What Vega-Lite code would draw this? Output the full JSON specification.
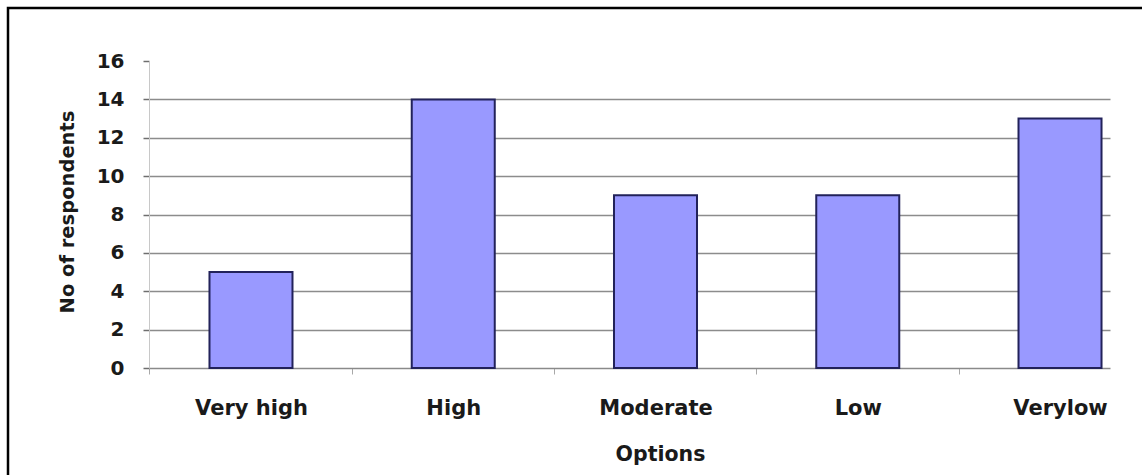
{
  "$schema": "https://vega.github.io/schema/vega-lite/v6.json",
  "width": 1150,
  "height": 480,
  "autosize": {"type": "none"},
  "padding": {"left": 8, "top": 8, "right": -16, "bottom": -13},
  "background": "#ffffff",
  "view": {
    "fill": "#ffffff",
    "stroke": "#000000",
    "strokeWidth": 2.5
  },
  "data": {
    "values": [
      {"option": "Very high", "respondents": 5},
      {"option": "High", "respondents": 14},
      {"option": "Moderate", "respondents": 9},
      {"option": "Low", "respondents": 9},
      {"option": "Verylow", "respondents": 13}
    ]
  },
  "mark": {
    "type": "bar",
    "fill": "#9999FF",
    "stroke": "#22225a",
    "strokeWidth": 2
  },
  "encoding": {
    "x": {
      "field": "option",
      "type": "nominal",
      "sort": null,
      "scale": {
        "range": [141, 1102],
        "paddingInner": 0.5896,
        "paddingOuter": 0.1705,
        "align": 0.877
      },
      "axis": {
        "title": "Options",
        "orient": "bottom",
        "offset": -120,
        "grid": false,
        "labelAngle": 0,
        "domainColor": "#8a8a8a",
        "domainWidth": 1.5,
        "tickColor": "#a8a8a8",
        "tickSize": 6,
        "tickWidth": 1,
        "tickOffset": -101.5,
        "labelOffset": 101.5,
        "labelFont": "DejaVu Sans",
        "labelFontWeight": "bold",
        "labelFontSize": 21,
        "labelColor": "#1a1a1a",
        "labelBaseline": "alphabetic",
        "labelPadding": 40,
        "labelOverlap": false,
        "titleFont": "DejaVu Sans",
        "titleFontWeight": "bold",
        "titleFontSize": 20.5,
        "titleColor": "#1a1a1a",
        "titleX": 652,
        "titleY": 92,
        "titleBaseline": "alphabetic"
      }
    },
    "y": {
      "field": "respondents",
      "type": "quantitative",
      "scale": {"domain": [0, 16], "range": [360, 53], "nice": false},
      "axis": {
        "title": "No of respondents",
        "offset": -141,
        "values": [0, 2, 4, 6, 8, 10, 12, 14, 16],
        "domainColor": "#c8c8c8",
        "domainWidth": 1,
        "tickColor": "#6e6e6e",
        "tickSize": 6,
        "tickWidth": 1.5,
        "grid": true,
        "gridColor": "#8c8c8c",
        "gridWidth": 1.5,
        "gridOpacity": {
          "condition": {"test": "datum.value === 16 || datum.value === 0", "value": 0},
          "value": 1
        },
        "labelFont": "DejaVu Sans",
        "labelFontWeight": "bold",
        "labelFontSize": 20,
        "labelColor": "#1a1a1a",
        "labelPadding": 19,
        "labelBaseline": "middle",
        "titleFont": "DejaVu Sans",
        "titleFontWeight": "bold",
        "titleFontSize": 19.5,
        "titleColor": "#1a1a1a",
        "titleX": -75.5,
        "titleY": 203.5,
        "titleBaseline": "alphabetic"
      }
    }
  }
}
